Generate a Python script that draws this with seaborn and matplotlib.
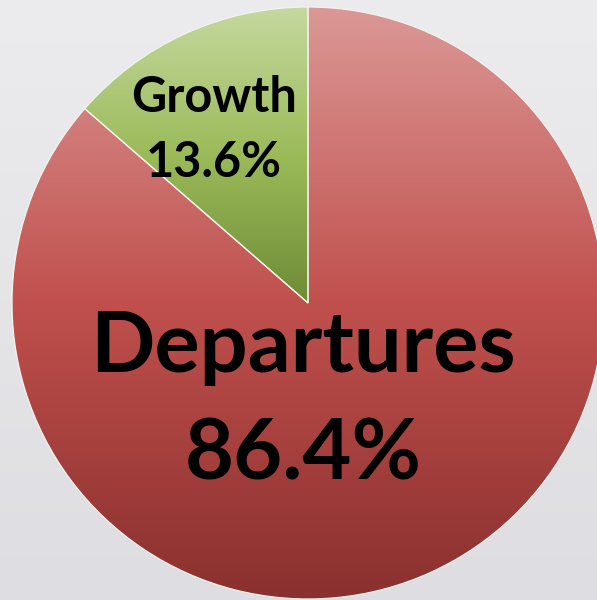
import numpy as np
import seaborn as sns
import matplotlib
matplotlib.use("Agg")
import matplotlib.pyplot as plt
from matplotlib.colors import LinearSegmentedColormap

# chart data
labels = ["Departures", "Growth"]
shares = [86.4, 13.6]
top_colors = ["#db9896", "#c5d89f"]
mid_colors = ["#c0504d", "#9bbb59"]
bottom_colors = ["#8a302e", "#6e8b36"]

sns.set_theme(style="white")
plt.rcParams["font.family"] = ["Lato", "DejaVu Sans"]

fig = plt.figure(figsize=(5.97, 6.0), dpi=100)

# background with a faint vertical gradient
bg = fig.add_axes([0, 0, 1, 1])
bg.imshow(np.linspace(0, 1, 256).reshape(-1, 1), aspect="auto",
          cmap=LinearSegmentedColormap.from_list("bg", ["#ececee", "#dedee2"]),
          extent=[0, 1, 0, 1])
bg.axis("off")

# pie axes: centre at (308, 303) px, radius 296 px
W, H = 597, 600
cx, cy, r = 308, 303, 296
ax = fig.add_axes([(cx - r) / W, (H - cy - r) / H, 2 * r / W, 2 * r / H])
ax.set_xlim(-1, 1)
ax.set_ylim(-1, 1)
ax.axis("off")

wedges, _ = ax.pie(shares, startangle=90, counterclock=False, radius=1,
                   wedgeprops=dict(edgecolor="#f2f2ee", linewidth=0.9))

for w, c0, c1, c2 in zip(wedges, top_colors, mid_colors, bottom_colors):
    ext = w.get_path().get_extents()
    ymin, ymax = ext.y0, ext.y1
    w.set_facecolor("none")
    cmap = LinearSegmentedColormap.from_list("g", [c2, c1, c0])
    grad = np.linspace(0, 1, 256).reshape(-1, 1)
    im = ax.imshow(grad, aspect="auto", cmap=cmap, origin="lower",
                   extent=[-1, 1, ymin, ymax], zorder=0)
    im.set_clip_path(w)
ax.set_xlim(-1, 1)
ax.set_ylim(-1, 1)


def px(x, y):
    return (x - cx) / r, (cy - y) / r


# labels
x, y = px(303, 372)
ax.text(x, y, labels[0], ha="center", va="baseline", fontsize=61,
        fontweight="bold", color="black")
x, y = px(303, 480)
ax.text(x, y, f"{shares[0]:.1f}%", ha="center", va="baseline", fontsize=61,
        fontweight="bold", color="black")
x, y = px(214, 112)
ax.text(x, y, labels[1], ha="center", va="baseline", fontsize=35,
        fontweight="bold", color="black")
x, y = px(214, 177)
ax.text(x, y, f"{shares[1]:.1f}%", ha="center", va="baseline", fontsize=35,
        fontweight="bold", color="black")

fig.savefig("out.png", dpi=100)
